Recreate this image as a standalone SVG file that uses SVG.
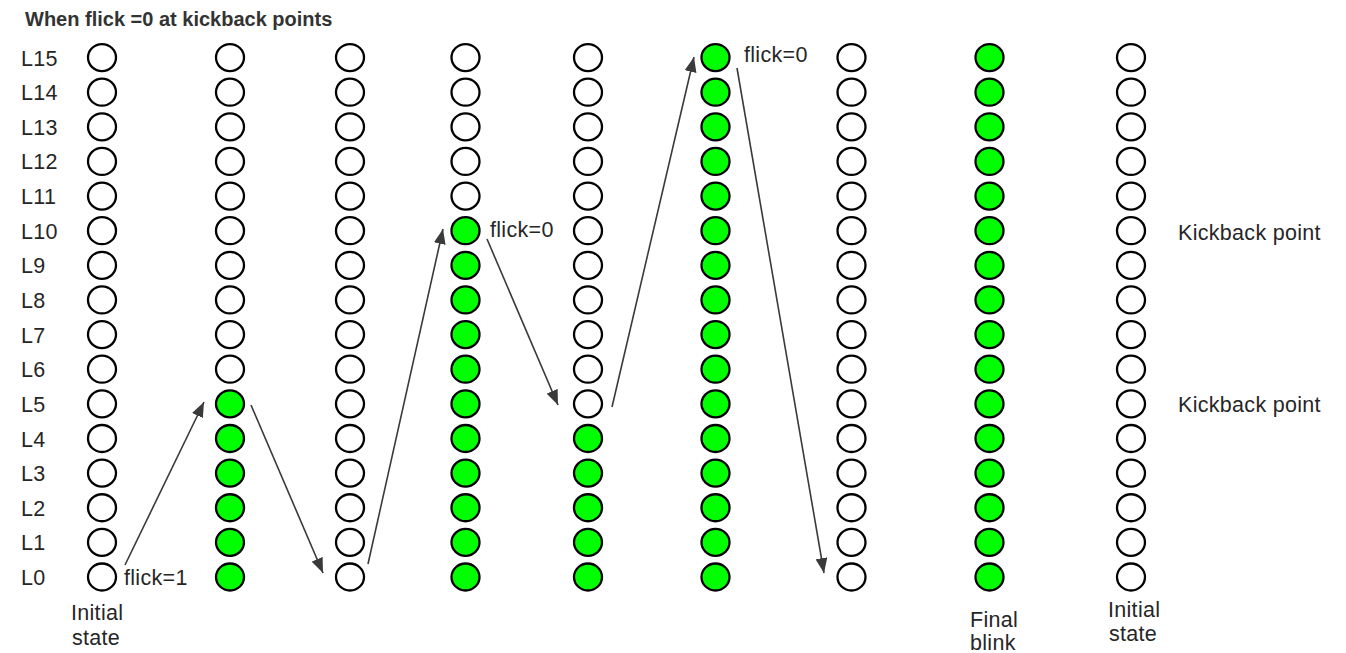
<svg xmlns="http://www.w3.org/2000/svg" xmlns:xlink="http://www.w3.org/1999/xlink" width="1346" height="653" viewBox="0 0 1346 653">
<style>
  text { font-family: "Liberation Sans", Arial, sans-serif; fill: #262626; font-size: 21.5px; letter-spacing: 0.3px; }
  .title { font-weight: bold; fill: #333333; font-size: 20px; letter-spacing: 0; }
  .off { fill: #ffffff; stroke: #000000; stroke-width: 2.3; }
  .on { fill: #00ff00; stroke: #000000; stroke-width: 2.3; }
  .arr { stroke: #3a3a3a; stroke-width: 1.6; fill: none; marker-end: url(#ah); }
</style>
<defs>
  <marker id="ah" markerWidth="16" markerHeight="12" refX="15" refY="6" orient="auto" markerUnits="userSpaceOnUse">
    <path d="M0,0 L15,6 L0,12 Z" fill="#3a3a3a"/>
  </marker>
  <ellipse id="c" cx="0" cy="0" rx="14" ry="13.5"/>
</defs>
<rect width="1346" height="653" fill="#ffffff"/>
<text class="title" x="25" y="26">When flick =0 at kickback points</text>
<g id="row-labels">
  <text x="21" y="65.5">L15</text>
  <text x="21" y="100.2">L14</text>
  <text x="21" y="134.8">L13</text>
  <text x="21" y="169.4">L12</text>
  <text x="21" y="204.1">L11</text>
  <text x="21" y="238.7">L10</text>
  <text x="21" y="273.3">L9</text>
  <text x="21" y="308">L8</text>
  <text x="21" y="342.6">L7</text>
  <text x="21" y="377.2">L6</text>
  <text x="21" y="411.9">L5</text>
  <text x="21" y="446.5">L4</text>
  <text x="21" y="481.1">L3</text>
  <text x="21" y="515.7">L2</text>
  <text x="21" y="550.4">L1</text>
  <text x="21" y="585">L0</text>
</g>
<g id="col0">
  <use xlink:href="#c" class="off" x="102" y="57.55"/><use xlink:href="#c" class="off" x="102" y="92.18"/><use xlink:href="#c" class="off" x="102" y="126.81"/><use xlink:href="#c" class="off" x="102" y="161.44"/><use xlink:href="#c" class="off" x="102" y="196.07"/><use xlink:href="#c" class="off" x="102" y="230.7"/><use xlink:href="#c" class="off" x="102" y="265.33"/><use xlink:href="#c" class="off" x="102" y="299.96"/><use xlink:href="#c" class="off" x="102" y="334.59"/><use xlink:href="#c" class="off" x="102" y="369.22"/><use xlink:href="#c" class="off" x="102" y="403.85"/><use xlink:href="#c" class="off" x="102" y="438.48"/><use xlink:href="#c" class="off" x="102" y="473.11"/><use xlink:href="#c" class="off" x="102" y="507.74"/><use xlink:href="#c" class="off" x="102" y="542.37"/><use xlink:href="#c" class="off" x="102" y="577"/>
  <text x="71" y="620">Initial</text>
  <text x="72" y="645">state</text>
</g>
<g id="col1">
  <use xlink:href="#c" class="off" x="230" y="57.55"/><use xlink:href="#c" class="off" x="230" y="92.18"/><use xlink:href="#c" class="off" x="230" y="126.81"/><use xlink:href="#c" class="off" x="230" y="161.44"/><use xlink:href="#c" class="off" x="230" y="196.07"/><use xlink:href="#c" class="off" x="230" y="230.7"/><use xlink:href="#c" class="off" x="230" y="265.33"/><use xlink:href="#c" class="off" x="230" y="299.96"/><use xlink:href="#c" class="off" x="230" y="334.59"/><use xlink:href="#c" class="off" x="230" y="369.22"/><use xlink:href="#c" class="on" x="230" y="403.85"/><use xlink:href="#c" class="on" x="230" y="438.48"/><use xlink:href="#c" class="on" x="230" y="473.11"/><use xlink:href="#c" class="on" x="230" y="507.74"/><use xlink:href="#c" class="on" x="230" y="542.37"/><use xlink:href="#c" class="on" x="230" y="577"/>
</g>
<g id="col2">
  <use xlink:href="#c" class="off" x="350" y="57.55"/><use xlink:href="#c" class="off" x="350" y="92.18"/><use xlink:href="#c" class="off" x="350" y="126.81"/><use xlink:href="#c" class="off" x="350" y="161.44"/><use xlink:href="#c" class="off" x="350" y="196.07"/><use xlink:href="#c" class="off" x="350" y="230.7"/><use xlink:href="#c" class="off" x="350" y="265.33"/><use xlink:href="#c" class="off" x="350" y="299.96"/><use xlink:href="#c" class="off" x="350" y="334.59"/><use xlink:href="#c" class="off" x="350" y="369.22"/><use xlink:href="#c" class="off" x="350" y="403.85"/><use xlink:href="#c" class="off" x="350" y="438.48"/><use xlink:href="#c" class="off" x="350" y="473.11"/><use xlink:href="#c" class="off" x="350" y="507.74"/><use xlink:href="#c" class="off" x="350" y="542.37"/><use xlink:href="#c" class="off" x="350" y="577"/>
</g>
<g id="col3">
  <use xlink:href="#c" class="off" x="465.5" y="57.55"/><use xlink:href="#c" class="off" x="465.5" y="92.18"/><use xlink:href="#c" class="off" x="465.5" y="126.81"/><use xlink:href="#c" class="off" x="465.5" y="161.44"/><use xlink:href="#c" class="off" x="465.5" y="196.07"/><use xlink:href="#c" class="on" x="465.5" y="230.7"/><use xlink:href="#c" class="on" x="465.5" y="265.33"/><use xlink:href="#c" class="on" x="465.5" y="299.96"/><use xlink:href="#c" class="on" x="465.5" y="334.59"/><use xlink:href="#c" class="on" x="465.5" y="369.22"/><use xlink:href="#c" class="on" x="465.5" y="403.85"/><use xlink:href="#c" class="on" x="465.5" y="438.48"/><use xlink:href="#c" class="on" x="465.5" y="473.11"/><use xlink:href="#c" class="on" x="465.5" y="507.74"/><use xlink:href="#c" class="on" x="465.5" y="542.37"/><use xlink:href="#c" class="on" x="465.5" y="577"/>
</g>
<g id="col4">
  <use xlink:href="#c" class="off" x="588" y="57.55"/><use xlink:href="#c" class="off" x="588" y="92.18"/><use xlink:href="#c" class="off" x="588" y="126.81"/><use xlink:href="#c" class="off" x="588" y="161.44"/><use xlink:href="#c" class="off" x="588" y="196.07"/><use xlink:href="#c" class="off" x="588" y="230.7"/><use xlink:href="#c" class="off" x="588" y="265.33"/><use xlink:href="#c" class="off" x="588" y="299.96"/><use xlink:href="#c" class="off" x="588" y="334.59"/><use xlink:href="#c" class="off" x="588" y="369.22"/><use xlink:href="#c" class="off" x="588" y="403.85"/><use xlink:href="#c" class="on" x="588" y="438.48"/><use xlink:href="#c" class="on" x="588" y="473.11"/><use xlink:href="#c" class="on" x="588" y="507.74"/><use xlink:href="#c" class="on" x="588" y="542.37"/><use xlink:href="#c" class="on" x="588" y="577"/>
</g>
<g id="col5">
  <use xlink:href="#c" class="on" x="715.5" y="57.55"/><use xlink:href="#c" class="on" x="715.5" y="92.18"/><use xlink:href="#c" class="on" x="715.5" y="126.81"/><use xlink:href="#c" class="on" x="715.5" y="161.44"/><use xlink:href="#c" class="on" x="715.5" y="196.07"/><use xlink:href="#c" class="on" x="715.5" y="230.7"/><use xlink:href="#c" class="on" x="715.5" y="265.33"/><use xlink:href="#c" class="on" x="715.5" y="299.96"/><use xlink:href="#c" class="on" x="715.5" y="334.59"/><use xlink:href="#c" class="on" x="715.5" y="369.22"/><use xlink:href="#c" class="on" x="715.5" y="403.85"/><use xlink:href="#c" class="on" x="715.5" y="438.48"/><use xlink:href="#c" class="on" x="715.5" y="473.11"/><use xlink:href="#c" class="on" x="715.5" y="507.74"/><use xlink:href="#c" class="on" x="715.5" y="542.37"/><use xlink:href="#c" class="on" x="715.5" y="577"/>
</g>
<g id="col6">
  <use xlink:href="#c" class="off" x="851.5" y="57.55"/><use xlink:href="#c" class="off" x="851.5" y="92.18"/><use xlink:href="#c" class="off" x="851.5" y="126.81"/><use xlink:href="#c" class="off" x="851.5" y="161.44"/><use xlink:href="#c" class="off" x="851.5" y="196.07"/><use xlink:href="#c" class="off" x="851.5" y="230.7"/><use xlink:href="#c" class="off" x="851.5" y="265.33"/><use xlink:href="#c" class="off" x="851.5" y="299.96"/><use xlink:href="#c" class="off" x="851.5" y="334.59"/><use xlink:href="#c" class="off" x="851.5" y="369.22"/><use xlink:href="#c" class="off" x="851.5" y="403.85"/><use xlink:href="#c" class="off" x="851.5" y="438.48"/><use xlink:href="#c" class="off" x="851.5" y="473.11"/><use xlink:href="#c" class="off" x="851.5" y="507.74"/><use xlink:href="#c" class="off" x="851.5" y="542.37"/><use xlink:href="#c" class="off" x="851.5" y="577"/>
</g>
<g id="col7">
  <use xlink:href="#c" class="on" x="989.5" y="57.55"/><use xlink:href="#c" class="on" x="989.5" y="92.18"/><use xlink:href="#c" class="on" x="989.5" y="126.81"/><use xlink:href="#c" class="on" x="989.5" y="161.44"/><use xlink:href="#c" class="on" x="989.5" y="196.07"/><use xlink:href="#c" class="on" x="989.5" y="230.7"/><use xlink:href="#c" class="on" x="989.5" y="265.33"/><use xlink:href="#c" class="on" x="989.5" y="299.96"/><use xlink:href="#c" class="on" x="989.5" y="334.59"/><use xlink:href="#c" class="on" x="989.5" y="369.22"/><use xlink:href="#c" class="on" x="989.5" y="403.85"/><use xlink:href="#c" class="on" x="989.5" y="438.48"/><use xlink:href="#c" class="on" x="989.5" y="473.11"/><use xlink:href="#c" class="on" x="989.5" y="507.74"/><use xlink:href="#c" class="on" x="989.5" y="542.37"/><use xlink:href="#c" class="on" x="989.5" y="577"/>
  <text x="970" y="627">Final</text>
  <text x="970" y="650">blink</text>
</g>
<g id="col8">
  <use xlink:href="#c" class="off" x="1131" y="57.55"/><use xlink:href="#c" class="off" x="1131" y="92.18"/><use xlink:href="#c" class="off" x="1131" y="126.81"/><use xlink:href="#c" class="off" x="1131" y="161.44"/><use xlink:href="#c" class="off" x="1131" y="196.07"/><use xlink:href="#c" class="off" x="1131" y="230.7"/><use xlink:href="#c" class="off" x="1131" y="265.33"/><use xlink:href="#c" class="off" x="1131" y="299.96"/><use xlink:href="#c" class="off" x="1131" y="334.59"/><use xlink:href="#c" class="off" x="1131" y="369.22"/><use xlink:href="#c" class="off" x="1131" y="403.85"/><use xlink:href="#c" class="off" x="1131" y="438.48"/><use xlink:href="#c" class="off" x="1131" y="473.11"/><use xlink:href="#c" class="off" x="1131" y="507.74"/><use xlink:href="#c" class="off" x="1131" y="542.37"/><use xlink:href="#c" class="off" x="1131" y="577"/>
  <text x="1108" y="617">Initial</text>
  <text x="1109" y="641">state</text>
</g>
<g id="annotations">
  <text x="124" y="585">flick=1</text>
  <text x="490" y="237">flick=0</text>
  <text x="744" y="62">flick=0</text>
  <text x="1178" y="240">Kickback point</text>
  <text x="1178" y="412">Kickback point</text>
</g>
<g id="connectors">
  <line class="arr" x1="125" y1="565" x2="204" y2="402"/>
  <line class="arr" x1="251" y1="405" x2="323" y2="573"/>
  <line class="arr" x1="368" y1="564" x2="443" y2="229"/>
  <line class="arr" x1="487" y1="239" x2="558" y2="405"/>
  <line class="arr" x1="612" y1="407" x2="694" y2="57"/>
  <line class="arr" x1="737" y1="68" x2="824" y2="573"/>
</g>
</svg>
